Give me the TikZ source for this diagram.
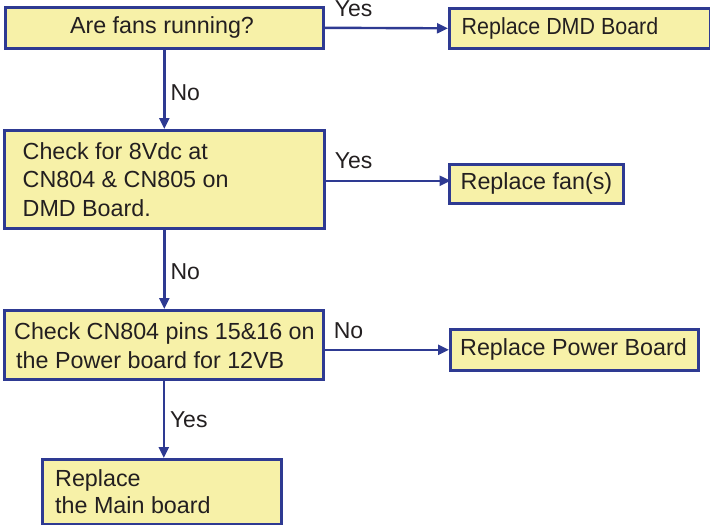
\documentclass[tikz,border=0pt]{standalone}
\usepackage{fontspec}
\setmainfont{Liberation Sans}
\usetikzlibrary{arrows.meta}
\definecolor{boxfill}{HTML}{F7F1A8}
\definecolor{boxline}{HTML}{2E3A92}
\definecolor{txt}{HTML}{231F20}
\begin{document}
\begin{tikzpicture}[x=1pt,y=-1pt,
  box/.style={draw=boxline,fill=boxfill,line width=2.6pt,rectangle,anchor=north west,inner sep=0pt},
  btxt/.style={anchor=west,inner sep=0pt,align=left,text=txt,font=\fontsize{23.3}{28.5}\selectfont},
  arr/.style={draw=boxline,line width=2.4pt,-{Triangle[length=11pt,width=10pt]}},
  lbl/.style={text=txt,font=\fontsize{23}{26}\selectfont,inner sep=0pt}]
\useasboundingbox (0,0) rectangle (710,525);
% boxes
\node[box,minimum width=318pt,minimum height=41pt] (b1) at (4,6) {};
\node[btxt,anchor=center,xshift=-2.3pt] (t1) at (b1.center) {Are fans running?};
\node[box,minimum width=261pt,minimum height=40pt] (dmd) at (448,7) {};
\node[btxt] (tdmd) at ([xshift=13.5pt]dmd.west) {\scalebox{0.92}[1]{Replace DMD Board}};
\node[box,minimum width=320pt,minimum height=98pt] (b2) at (3,129) {};
\node[btxt] (t2) at ([xshift=19.5pt]b2.west) {Check for 8Vdc at\\CN804 \& CN805 on\\DMD Board.};
\node[box,minimum width=174pt,minimum height=39pt] (fan) at (448,163) {};
\node[btxt] (tfan) at ([xshift=12.5pt]fan.west) {Replace fan(s)};
\node[box,minimum width=319pt,minimum height=69pt] (b3) at (3,309) {};
\node[btxt] (t3) at ([xshift=11pt,yshift=-1pt]b3.west) {Check CN804 pins 15\&16 on\\\hspace*{2pt}the Power board for 12VB};
\node[box,minimum width=248pt,minimum height=41pt] (pw) at (449,328) {};
\node[btxt] (tpw) at ([xshift=11pt]pw.west) {Replace Power Board};
\node[box,minimum width=239pt,minimum height=65pt] (b5) at (41,458) {};
\node[btxt,font=\fontsize{23.3}{27}\selectfont] (t5) at ([xshift=14pt]b5.west) {Replace\\the Main board};
% connectors
\draw[arr] (b1.east) -- node[lbl,anchor=base west,pos=0,xshift=9pt,yshift=11pt]{Yes} (dmd.west);
\draw[arr] (b1.south) -- node[lbl,anchor=west,xshift=5pt,yshift=-3pt]{No} (b2.north);
\draw[arr] (b2.east |- fan.west) ++(0,-3) -- node[lbl,anchor=base west,pos=0,xshift=8pt,yshift=12pt]{Yes} ++(125,0) coordinate (fa);
\draw[arr] (b2.south) -- node[lbl,anchor=west,xshift=5pt,yshift=-2pt]{No} (b2.south |- b3.north);
\draw[arr] (b3.east |- pw.west) -- node[lbl,anchor=base west,pos=0,xshift=8pt,yshift=11pt]{No} (pw.west);
\draw[arr] (b3.south) -- node[lbl,anchor=west,xshift=5pt]{Yes} (b3.south |- b5.north);
\end{tikzpicture}
\end{document}
